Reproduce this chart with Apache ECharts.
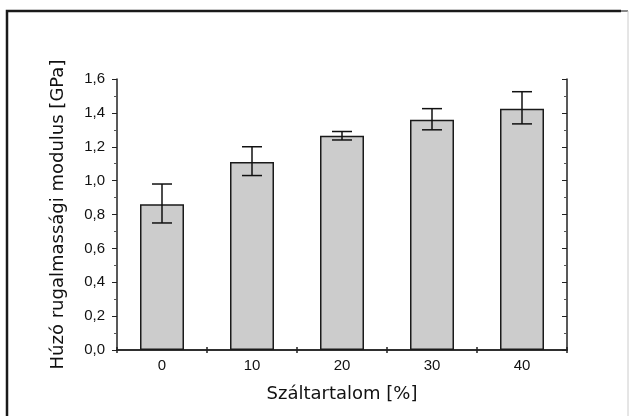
<!DOCTYPE html>
<html>
<head>
<meta charset="utf-8">
<script src="https://cdn.jsdelivr.net/npm/echarts@6/dist/echarts.min.js"></script>
<style>
  html, body { margin: 0; padding: 0; background: #fff; }
  #chart { width: 630px; height: 416px; }
</style>
</head>
<body>
<div id="chart"></div>
<script>
// fiber content [%]
var categories = ['0', '10', '20', '30', '40'];
// tensile modulus [GPa]
var modulus = [0.86, 1.11, 1.265, 1.36, 1.425];
var errLow = [0.75, 1.03, 1.24, 1.30, 1.335];
var errHigh = [0.98, 1.20, 1.29, 1.425, 1.525];

var errData = categories.map(function (c, i) {
    return [i, errLow[i], errHigh[i]];
});

var axisColor = '#222';
var commaFmt = function (v) {
    return v.toFixed(1).replace('.', ',');
};

var myChart = echarts.init(document.getElementById('chart'));

var option = {
    animation: false,
    backgroundColor: '#fff',
    grid: { left: 117, right: 63, top: 79, bottom: 66 },
    graphic: [
        {
            type: 'polyline',
            shape: { points: [[7, 420], [7, 11], [621, 11]] },
            style: { stroke: '#1a1a1a', lineWidth: 2.5, fill: null }
        },
        {
            type: 'line',
            shape: { x1: 621, y1: 11, x2: 628, y2: 11 },
            style: { stroke: '#888', lineWidth: 2 }
        },
        {
            type: 'line',
            shape: { x1: 628, y1: 11, x2: 628, y2: 420 },
            style: { stroke: '#ccc', lineWidth: 1 }
        }
    ],
    xAxis: [
        {
            type: 'category',
            data: categories,
            position: 'bottom',
            name: 'Száltartalom [%]',
            nameLocation: 'middle',
            nameGap: 35,
            nameTextStyle: { fontFamily: 'DejaVu Sans', fontSize: 18, color: '#111' },
            axisLine: { lineStyle: { color: axisColor, width: 1.5 } },
            axisTick: { show: true, length: 3, lineStyle: { color: axisColor, width: 1.5 } },
            axisLabel: { fontFamily: 'Liberation Sans', fontSize: 15, color: '#111', margin: 8 },
            splitLine: { show: false }
        },
        {
            type: 'category',
            data: categories,
            position: 'top',
            axisLine: { lineStyle: { color: axisColor, width: 1.5 } },
            axisTick: { show: true, length: 3, lineStyle: { color: axisColor, width: 1.5 } },
            axisLabel: { show: false },
            splitLine: { show: false }
        }
    ],
    yAxis: [
        {
            type: 'value',
            min: 0,
            max: 1.6,
            interval: 0.2,
            position: 'left',
            name: 'Húzó rugalmassági modulus [GPa]',
            nameLocation: 'middle',
            nameGap: 50,
            nameTextStyle: { fontFamily: 'DejaVu Sans', fontSize: 18, color: '#111' },
            axisLine: { show: true, lineStyle: { color: axisColor, width: 1.5 } },
            axisTick: { show: true, length: 5, lineStyle: { color: axisColor, width: 1 } },
            minorTick: { show: true, splitNumber: 2, length: 3, lineStyle: { color: '#555', width: 1 } },
            axisLabel: { fontFamily: 'Liberation Sans', fontSize: 15, color: '#111', margin: 12, formatter: commaFmt },
            splitLine: { show: false }
        },
        {
            type: 'value',
            min: 0,
            max: 1.6,
            interval: 0.2,
            position: 'right',
            axisLine: { show: true, lineStyle: { color: axisColor, width: 1.5 } },
            axisTick: { show: true, inside: true, length: 5, lineStyle: { color: axisColor, width: 1 } },
            minorTick: { show: true, splitNumber: 2, length: 3, lineStyle: { color: '#555', width: 1 } },
            axisLabel: { show: false },
            splitLine: { show: false }
        }
    ],
    series: [
        {
            name: 'modulus',
            type: 'bar',
            data: modulus,
            barWidth: 44,
            itemStyle: {
                color: '#cccccc',
                borderColor: '#1a1a1a',
                borderWidth: 1.5
            }
        },
        {
            name: 'error',
            type: 'custom',
            data: errData,
            z: 5,
            renderItem: function (params, api) {
                var lo = api.coord([api.value(0), api.value(1)]);
                var hi = api.coord([api.value(0), api.value(2)]);
                var half = 10;
                var st = { stroke: '#111', lineWidth: 1.5 };
                return {
                    type: 'group',
                    children: [
                        { type: 'line', shape: { x1: hi[0], y1: hi[1], x2: lo[0], y2: lo[1] }, style: st },
                        { type: 'line', shape: { x1: hi[0] - half, y1: hi[1], x2: hi[0] + half, y2: hi[1] }, style: st },
                        { type: 'line', shape: { x1: lo[0] - half, y1: lo[1], x2: lo[0] + half, y2: lo[1] }, style: st }
                    ]
                };
            }
        }
    ]
};

myChart.setOption(option);
</script>
</body>
</html>
